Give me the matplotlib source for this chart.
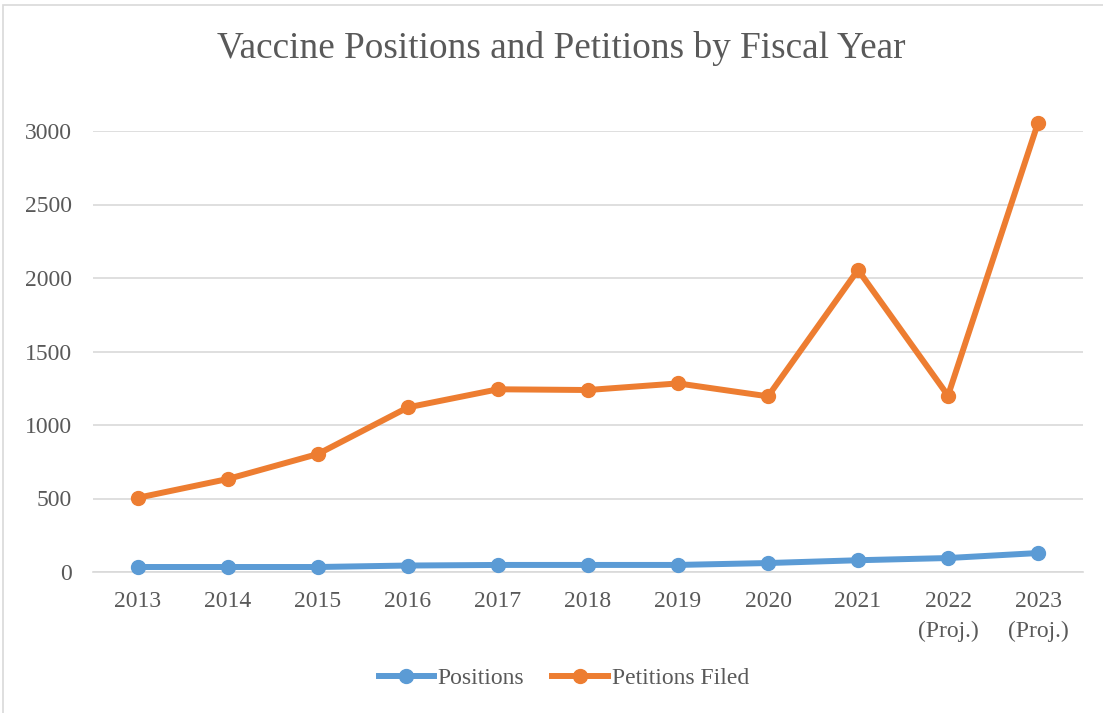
import matplotlib
matplotlib.use("Agg")
import matplotlib.pyplot as plt
from matplotlib.patches import Rectangle

years = ["2013", "2014", "2015", "2016", "2017", "2018", "2019", "2020", "2021",
         "2022\n(Proj.)", "2023\n(Proj.)"]
positions = [34, 34, 34, 44, 48, 48, 48, 61, 80, 95, 129]
petitions = [505, 633, 803, 1120, 1243, 1238, 1283, 1195, 2055, 1200, 3055]

plt.rcParams['font.family'] = ['Liberation Serif', 'DejaVu Serif']
gray = "#595959"

fig = plt.figure(figsize=(11.03, 7.13), dpi=100)
ax = fig.add_axes([93 / 1103, 1 - 572 / 713, (1083 - 93) / 1103, (572 - 131) / 713])

x = range(len(years))
ax.plot(x, positions, color="#5B9BD5", lw=4.3, marker="o", ms=10,
        label="Positions", clip_on=False, zorder=3)
ax.plot(x, petitions, color="#ED7D31", lw=4.3, marker="o", ms=10,
        label="Petitions Filed", clip_on=False, zorder=3)

ax.set_xlim(-0.5, len(years) - 0.5)
ax.set_ylim(0, 3000)
ax.set_yticks(range(0, 3001, 500))
ax.set_xticks(list(x))
ax.set_xticklabels(years, linespacing=1.5)
ax.grid(axis="y", color="#D9D9D9", lw=1.2)
ax.set_axisbelow(True)
for s in ["top", "right", "left"]:
    ax.spines[s].set_visible(False)
ax.spines["bottom"].set_color("#D9D9D9")
ax.spines["bottom"].set_linewidth(1.2)
ax.tick_params(length=0, labelsize=17, labelcolor=gray)
ax.tick_params(axis="x", pad=14)
ax.tick_params(axis="y", pad=15)

fig.text(561 / 1103, 1 - 49 / 713, "Vaccine Positions and Petitions by Fiscal Year",
         ha="center", va="center", fontsize=26.8, color=gray)

leg = fig.legend(loc="center", bbox_to_anchor=(0.511, 1 - 678 / 713), ncol=2,
                 frameon=False, fontsize=17, handlelength=2.35, columnspacing=1.2,
                 handletextpad=0.15)
for t in leg.get_texts():
    t.set_color(gray)

fig.patches.append(Rectangle((3 / 1103, -0.01), 1.02, 1 - 5 / 713 + 0.01,
                             transform=fig.transFigure, fill=False,
                             edgecolor="#D9D9D9", lw=1.2))

fig.savefig("out.png", dpi=100)
